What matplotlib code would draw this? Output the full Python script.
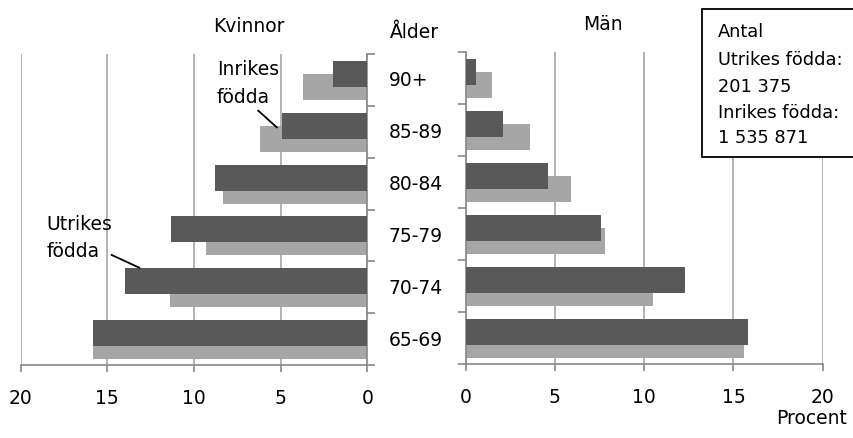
import matplotlib
matplotlib.use('Agg')
import matplotlib.pyplot as plt
from matplotlib.lines import Line2D
from matplotlib.patches import Rectangle
import matplotlib.transforms as mtransforms
import numpy as np

# ---- data ----
ages = ['65-69', '70-74', '75-79', '80-84', '85-89', '90+']
women_utrikes = [15.8, 14.0, 11.3, 8.8, 4.9, 2.0]
women_inrikes = [15.8, 11.4, 9.3, 8.3, 6.2, 3.7]
men_utrikes = [15.8, 12.3, 7.6, 4.6, 2.1, 0.6]
men_inrikes = [15.6, 10.5, 7.8, 5.9, 3.6, 1.5]
x_ticks = [0, 5, 10, 15, 20]
box_lines = ['Antal', 'Utrikes födda:', '201 375', 'Inrikes födda:', '1 535 871']

# ---- style ----
W, H = 854, 438
DARK = '#595959'
LIGHT = '#a6a6a6'
GRID = '#a6a6a6'
SPINE = '#888888'
FS = 13.5
FS_BOX = 12.8
plt.rcParams['font.family'] = ['DejaVu Sans']

fig = plt.figure(figsize=(W / 100, H / 100), dpi=100)
fig.patch.set_facecolor('white')


def fx(px):
    return px / W


def fy(py):
    return 1 - py / H


ax1 = fig.add_axes([fx(20.7), fy(365), (367.3 - 20.7) / W, (365 - 54) / H])
ax2 = fig.add_axes([fx(465.7), fy(364), (822.7 - 465.7) / W, (364 - 52.3) / H])

y = np.arange(len(ages))
for ax, utr, inr in ((ax1, women_utrikes, women_inrikes), (ax2, men_utrikes, men_inrikes)):
    ax.barh(y - 0.135, inr, height=0.5, color=LIGHT, zorder=2)
    ax.barh(y + 0.115, utr, height=0.5, color=DARK, zorder=3)
    ax.set_ylim(-0.5, len(ages) - 0.5)
    ax.set_xticks(x_ticks)
    ax.set_xticklabels([str(t) for t in x_ticks])
    ax.set_yticks(np.arange(-0.5, len(ages), 1.0))
    ax.set_yticklabels([])
    ax.grid(axis='x', color=GRID, lw=1.2, zorder=0)
    ax.grid(axis='y', visible=False)
    ax.set_axisbelow(True)
    ax.spines['top'].set_visible(False)
    for s in ax.spines.values():
        s.set_color(SPINE)
        s.set_linewidth(1.2)
    ax.tick_params(axis='x', direction='out', length=5, width=1.2, color=SPINE,
                   labelsize=FS, pad=12)
    ax.tick_params(axis='y', direction='out', length=5.5, width=1.2, color=SPINE)

ax1.set_xlim(20, 0)
ax1.spines['left'].set_visible(False)
ax1.yaxis.tick_right()
ax2.set_xlim(0, 20)
ax2.spines['right'].set_visible(False)

# ---- titles and labels ----
fig.text(fx(213), fy(31.7), 'Kvinnor', fontsize=FS, ha='left', va='baseline')
fig.text(fx(583), fy(30), 'Män', fontsize=FS, ha='left', va='baseline')
fig.text(fx(390), fy(38.3), 'Ålder', fontsize=FS, ha='left', va='baseline')
fig.text(fx(776), fy(424), 'Procent', fontsize=FS, ha='left', va='baseline')

trans = mtransforms.blended_transform_factory(fig.transFigure, ax1.transData)
for i, lab in enumerate(ages):
    ax1.text(fx(389), i - 0.02, lab, transform=trans, fontsize=FS,
             ha='left', va='center', clip_on=False)

# annotations
fig.text(fx(216.7), fy(75), 'Inrikes', fontsize=FS, ha='left', va='baseline')
fig.text(fx(216.7), fy(103.3), 'födda', fontsize=FS, ha='left', va='baseline')
fig.text(fx(46.7), fy(230), 'Utrikes', fontsize=FS, ha='left', va='baseline')
fig.text(fx(46.7), fy(256.7), 'födda', fontsize=FS, ha='left', va='baseline')
fig.add_artist(Line2D([fx(258.3), fx(276.7)], [fy(110.7), fy(127.3)],
                      color='black', lw=1.3, transform=fig.transFigure))
fig.add_artist(Line2D([fx(111.7), fx(139.3)], [fy(255), fy(267.7)],
                      color='black', lw=1.3, transform=fig.transFigure))

# info box
fig.add_artist(Rectangle((fx(701.7), fy(157.3)), (870 - 701.7) / W, (157.3 - 9.3) / H,
                         transform=fig.transFigure, facecolor='white',
                         edgecolor='black', lw=1.3, zorder=5))
baselines = [37.3, 64.8, 91.5, 117.5, 142.7]
for txt, b in zip(box_lines, baselines):
    fig.text(fx(718), fy(b), txt, fontsize=FS_BOX, ha='left', va='baseline', zorder=6)

fig.savefig('out.png', dpi=100)
